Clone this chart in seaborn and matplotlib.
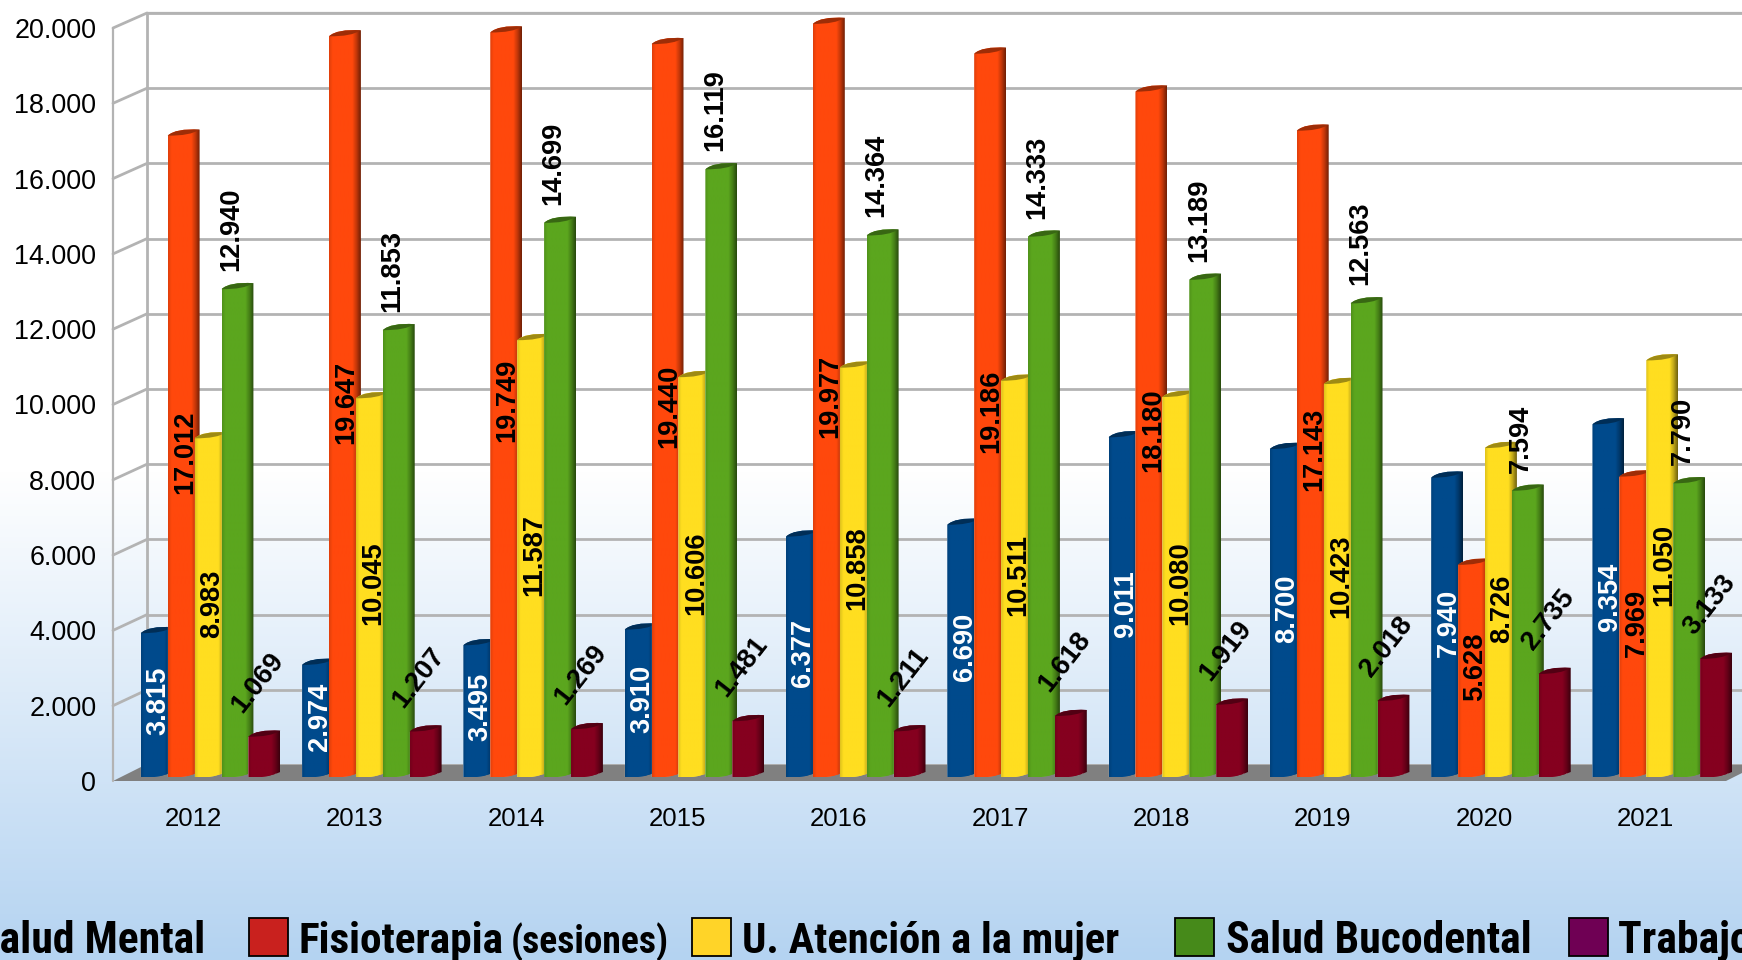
import numpy as np
import pandas as pd
import matplotlib
matplotlib.use("Agg")
import matplotlib.pyplot as plt
import seaborn as sns
from matplotlib.colors import to_rgb, LinearSegmentedColormap
from matplotlib.patches import PathPatch, Polygon, Rectangle, ConnectionPatch
from matplotlib.path import Path
from matplotlib.ticker import FuncFormatter

# values
anios = [2012, 2013, 2014, 2015, 2016, 2017, 2018, 2019, 2020, 2021]
salud_mental = [3815, 2974, 3495, 3910, 6377, 6690, 9011, 8700, 7940, 9354]
fisioterapia = [17012, 19647, 19749, 19440, 19977, 19186, 18180, 17143, 5628, 7969]
atencion_mujer = [8983, 10045, 11587, 10606, 10858, 10511, 10080, 10423, 8726, 11050]
salud_bucodental = [12940, 11853, 14699, 16119, 14364, 14333, 13189, 12563, 7594, 7790]
trabajo_social = [1069, 1207, 1269, 1481, 1211, 1618, 1919, 2018, 2735, 3133]

series = ["Salud Mental", "Fisioterapia", "U. Atención", "Salud Bucodental", "Trabajo"]
colores = ["#004a8c", "#ff480c", "#ffde20", "#5ba61e", "#85001f"]
colores_leyenda = ["#c9211e", "#ffd428", "#468a1a", "#6f0054"]
y_ticks = list(range(0, 20001, 2000))

df = pd.DataFrame({
    "anio": anios * 5,
    "valor": salud_mental + fisioterapia + atencion_mujer + salud_bucodental + trabajo_social,
    "serie": [s for s in series for _ in anios],
})

W, H = 1742, 960
sns.set_theme(style="white")
plt.rcParams["font.family"] = ["Liberation Sans", "DejaVu Sans"]
fig = plt.figure(figsize=(W / 100, H / 100), dpi=100)


def px_axes(left, bottom, width, height):
    ax = fig.add_axes([left / W, 1 - bottom / H, width / W, height / H])
    ax.patch.set_alpha(0)
    return ax


def fmt_miles(v):
    return f"{int(v):,}".replace(",", ".")


# background gradient and floor, in pixel coordinates
ax_bg = fig.add_axes([0, 0, 1, 1], zorder=0)
grad = np.linspace(0, 1, H).reshape(-1, 1)
grad = np.clip((grad - 470 / H) / (1 - 470 / H), 0, 1)
ax_bg.imshow(grad, cmap=LinearSegmentedColormap.from_list("f", ["#ffffff", "#b4d3f1"]),
             extent=[0, W, H, 0], aspect="auto", vmin=0, vmax=1)
ax_bg.set_xlim(0, W)
ax_bg.set_ylim(H, 0)
ax_bg.axis("off")

# three planes of the fake 3D box, bars axes runs a bit higher so the caps are not cut
y_max_barras = 21000
ax_back = px_axes(147, 765, 1613, 752)
ax_back.set_zorder(1)
ax_front = px_axes(113, 781, 1613, 753)
ax_front.set_zorder(2)
ax_bars = px_axes(127.4, 777, 1613, 754 * y_max_barras / 20000)
ax_bars.set_zorder(3)

for a in (ax_back, ax_front, ax_bars):
    a.set_xlim(-0.5, 9.5)
    a.set_ylim(0, 20000)
    a.set_yticks(y_ticks)
    sns.despine(ax=a, left=True, bottom=True)

ax_bg.add_patch(Polygon([(113, 781), (147, 764), (1760, 764), (1726, 781)],
                        closed=True, facecolor="#808080", edgecolor="none", zorder=3))

# back wall grid
ax_back.grid(axis="y", color="#b3b3b3", linewidth=2)
ax_back.set_xticks([])
ax_back.tick_params(left=False, labelleft=False)
ax_back.plot([-0.5, -0.5], [0, 20000], color="#b3b3b3", linewidth=2, clip_on=False)
ax_back.plot([-0.5, 9.5], [20000, 20000], color="#b3b3b3", linewidth=1.6, clip_on=False)

# side wall
ax_front.plot([-0.5, -0.5], [0, 20000], color="#b3b3b3", linewidth=1.6, clip_on=False)
for t in y_ticks[1:]:
    fig.add_artist(ConnectionPatch((-0.5, t), (-0.5, t), coordsA=ax_front.transData,
                                   coordsB=ax_back.transData, color="#b3b3b3", linewidth=2, zorder=1.5))

# axis labels on the front plane
ax_front.set_xticks(range(len(anios)))
ax_front.set_xticklabels(anios, fontsize=18.6, color="black")
ax_front.yaxis.set_major_formatter(FuncFormatter(lambda v, _: fmt_miles(v)))
ax_front.tick_params(axis="y", length=0, pad=12, labelsize=19.4, labelcolor="black")
ax_front.tick_params(axis="x", length=0, pad=18.7)

# bars
sns.barplot(data=df, x="anio", y="valor", hue="serie", hue_order=series, palette=colores,
            saturation=1, width=0.834, errorbar=None, legend=False, ax=ax_bars)
ax_bars.set_xlabel("")
ax_bars.set_ylabel("")
ax_bars.set_xticks([])
ax_bars.set_yticks([])
ax_bars.set_xlim(-0.5, 9.5)
ax_bars.set_ylim(0, y_max_barras)

px_x = 1 / 161.3
px_y = 20000 / 754
sombra = np.interp(np.linspace(0, 1, 40), [0, 0.1, 0.74, 0.88, 1], [0.88, 1, 1, 0.74, 0.45])

for i, (cont, color) in enumerate(zip(ax_bars.containers, colores)):
    rgb = np.array(to_rgb(color))
    for rect in cont:
        x0 = rect.get_x()
        x1 = x0 + rect.get_width() + 5 * px_x
        ancho = x1 - x0
        top = rect.get_height()
        rise = 6 * px_y
        # body: curved base, sloped top
        cuerpo = Path(
            [(x0, 0), (x0 + ancho / 2, -2 * px_y), (x1, rise - 1 * px_y), (x1, top + rise),
             (x0 + ancho * 0.25, top + rise * 1.25), (x0, top), (x0, 0)],
            [Path.MOVETO, Path.CURVE3, Path.CURVE3, Path.LINETO,
             Path.CURVE3, Path.CURVE3, Path.CLOSEPOLY],
        )
        clip = PathPatch(cuerpo, transform=ax_bars.transData)
        rect.set_clip_path(clip)
        rect.set_zorder(3 + i)
        im = ax_bars.imshow((sombra[:, None] * rgb)[None, :, :],
                            extent=[x0, x1, 0 - 3 * px_y, top + 2 * rise],
                            aspect="auto", zorder=3 + i, interpolation="bilinear")
        im.set_clip_path(clip)
        # dark cap
        tapa = Path(
            [(x0, top), (x0 + ancho * 0.25, top + rise * 1.25), (x1, top + rise),
             (x0 + ancho * 0.7, top - rise * 0.05), (x0, top), (x0, top)],
            [Path.MOVETO, Path.CURVE3, Path.CURVE3, Path.CURVE3, Path.CURVE3, Path.CLOSEPOLY],
        )
        ax_bars.add_patch(PathPatch(tapa, facecolor=rgb * 0.62, edgecolor="none", zorder=3 + i + 0.5))
ax_bars.set_xlim(-0.5, 9.5)
ax_bars.set_ylim(0, y_max_barras)

# value labels
for i, cont in enumerate(ax_bars.containers):
    for rect in cont:
        xc = rect.get_x() + rect.get_width() / 2
        v = rect.get_height()
        txt = fmt_miles(v)
        if i in (0, 1, 2):
            ax_bars.annotate(txt, (xc, v / 2), xytext=(4, 4), textcoords="offset pixels",
                             rotation=90, ha="center", va="center", fontsize=19.6, fontweight="bold",
                             color="white" if i == 0 else "black", zorder=20)
        elif i == 3:
            ax_bars.annotate(txt, (xc, v), xytext=(-4, 18), textcoords="offset pixels",
                             rotation=90, ha="center", va="bottom", fontsize=19.6, fontweight="bold",
                             color="black", zorder=20)
        else:
            ax_bars.annotate(txt, (xc, v), xytext=(-4, 54), textcoords="offset pixels",
                             rotation=52, ha="center", va="center", fontsize=19.6, fontweight="bold",
                             color="black", zorder=20)

# legend, first entry runs off the left edge as in the original
fuente = ["Roboto Condensed", "Liberation Sans"]
base = 953
ax_bg.text(205, base, "Salud Mental", ha="right", va="baseline", fontsize=31.5,
           fontweight="bold", family=fuente, color="black")
ax_bg.text(298, base, "Fisioterapia", ha="left", va="baseline", fontsize=31.2,
           fontweight="bold", family=fuente, color="black")
ax_bg.text(511, base, "(sesiones)", ha="left", va="baseline", fontsize=27,
           fontweight="bold", family=fuente, color="black")
ax_bg.text(742, base, "U. Atención a la mujer", ha="left", va="baseline", fontsize=30.7,
           fontweight="bold", family=fuente, color="black")
ax_bg.text(1226, base, "Salud Bucodental", ha="left", va="baseline", fontsize=31.5,
           fontweight="bold", family=fuente, color="black")
ax_bg.text(1618, base, "Trabajo Social", ha="left", va="baseline", fontsize=31.5,
           fontweight="bold", family=fuente, color="black")
for xs, c in zip([249, 692, 1175, 1569], colores_leyenda):
    ax_bg.add_patch(Rectangle((xs, 918), 38.5, 38, facecolor=c, edgecolor="black", linewidth=1.3))

fig.savefig("out.png", dpi=100)
